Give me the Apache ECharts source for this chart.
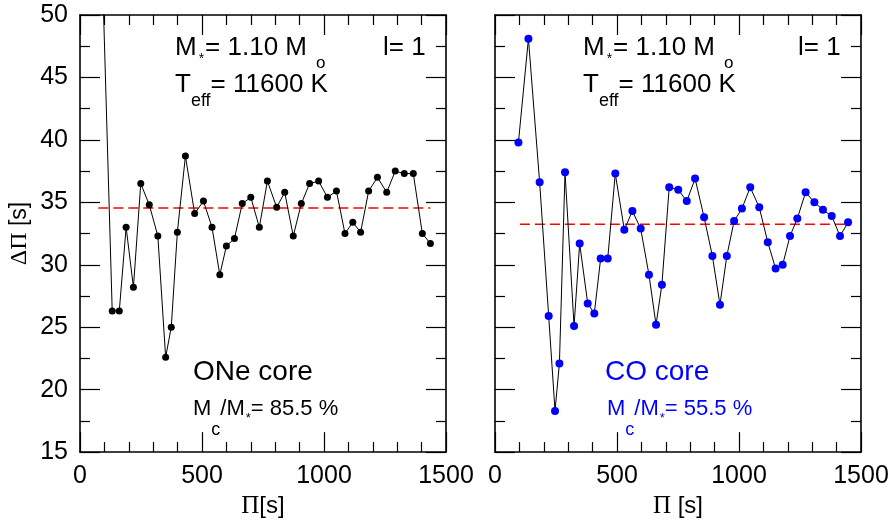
<!DOCTYPE html>
<html>
<head>
<meta charset="utf-8">
<script src="https://cdn.jsdelivr.net/npm/echarts@6/dist/echarts.min.js"></script>
<style>
html,body{margin:0;padding:0;background:#fff;}
#c{width:893px;height:524px;}
</style>
</head>
<body>
<div id="c"></div>
<script>
// ---- data ----
var piLeft = [85, 132, 161, 189, 219, 249, 284, 319, 351, 374, 399, 432, 470, 506, 541, 573, 600, 633, 665, 700, 735, 768, 806, 839, 874, 907, 941, 978, 1014, 1051, 1086, 1118, 1150, 1183, 1219, 1257, 1292, 1329, 1366, 1403, 1436];
var dpLeft = [58, 26.3, 26.3, 33.0, 28.2, 36.5, 34.8, 32.3, 22.6, 25.0, 32.6, 38.7, 34.1, 35.1, 33.0, 29.2, 31.5, 32.1, 34.9, 35.4, 33.0, 36.7, 34.6, 35.8, 32.3, 34.9, 36.5, 36.7, 35.4, 35.9, 32.5, 33.4, 32.6, 35.9, 37.0, 35.8, 37.5, 37.3, 37.3, 32.5, 31.7];
var piRight = [96, 137, 183, 220, 246, 264, 287, 324, 347, 380, 407, 433, 462, 493, 530, 563, 597, 631, 660, 684, 714, 751, 786, 820, 857, 891, 922, 950, 980, 1012, 1046, 1083, 1118, 1150, 1179, 1209, 1239, 1273, 1309, 1344, 1380, 1414, 1447];
var dpRight = [39.8, 48.1, 36.6, 25.9, 18.3, 22.1, 37.4, 25.1, 31.7, 26.9, 26.1, 30.5, 30.5, 37.3, 32.8, 34.3, 32.9, 29.2, 25.2, 28.4, 36.2, 36.0, 35.1, 36.9, 33.8, 30.7, 26.8, 30.7, 33.5, 34.5, 36.2, 34.6, 31.8, 29.7, 30.0, 32.3, 33.7, 35.8, 35.0, 34.4, 33.9, 32.3, 33.4];
var meanLeftX = [75, 1436];
var meanLeftY = [34.54, 34.54];
var meanRightX = [102, 1448];
var meanRightY = [33.24, 33.24];
var xTicks = [0, 500, 1000, 1500];
var yTicks = [15, 20, 25, 30, 35, 40, 45, 50];

function zip(a, b) { return a.map(function (v, i) { return [v, b[i]]; }); }

var SANS = 'Liberation Sans, Arial, Helvetica, sans-serif';
var SERIF = 'Liberation Serif, Times New Roman, serif';
function plain(v) { return String(v); }

function xAx(grid, pos, showLabel, name) {
  return {
    type: 'value', gridIndex: grid, position: pos,
    min: xTicks[0], max: xTicks[xTicks.length - 1], interval: 500,
    axisLine: { show: true, onZero: false, lineStyle: { color: '#000', width: 1.6 } },
    axisTick: { show: true, inside: true, length: 20, lineStyle: { color: '#000', width: 1.2 } },
    minorTick: { show: true, splitNumber: 5, length: 10, lineStyle: { color: '#000', width: 1.2 } },
    splitLine: { show: false },
    axisLabel: { show: showLabel, margin: 12, color: '#000', fontSize: 25, fontFamily: SANS, formatter: plain },
    name: name || '', nameLocation: 'middle', nameGap: 41,
    nameTextStyle: { color: '#000', fontSize: 24, fontFamily: SANS,
      rich: { g: { fontFamily: SERIF, fontSize: 25, color: '#000' }, s: { fontFamily: SANS, fontSize: 24, color: '#000' } } }
  };
}
function yAx(grid, pos, showLabel, name) {
  return {
    type: 'value', gridIndex: grid, position: pos,
    min: yTicks[0], max: yTicks[yTicks.length - 1], interval: 5,
    axisLine: { show: true, onZero: false, lineStyle: { color: '#000', width: 1.6 } },
    axisTick: { show: true, inside: true, length: 20, lineStyle: { color: '#000', width: 1.2 } },
    minorTick: { show: true, splitNumber: 2, length: 10, lineStyle: { color: '#000', width: 1.2 } },
    splitLine: { show: false },
    axisLabel: { show: showLabel, margin: 12, color: '#000', fontSize: 25, fontFamily: SANS, formatter: plain },
    name: name || '', nameLocation: 'middle', nameGap: 48,
    nameTextStyle: { color: '#000', fontSize: 23, fontFamily: SANS,
      rich: { g: { fontFamily: SERIF, fontSize: 24, color: '#000' }, s: { fontFamily: SANS, fontSize: 23, color: '#000' } } }
  };
}

function txt(left, top, text, color, rich) {
  var r = {};
  Object.keys(rich).forEach(function (k) {
    r[k] = Object.assign({ fontFamily: SANS, fill: color }, rich[k]);
  });
  return { type: 'text', left: left, top: top, silent: true,
    style: { text: text, fill: color, fontFamily: SANS, fontSize: 20, rich: r } };
}

var headRich = {
  n: { fontSize: 26 },
  st: { fontSize: 14, padding: [22, 1, 0, 2] },
  o: { fontSize: 17, padding: [31, 0, 0, 9] }
};
var teffRich = {
  n: { fontSize: 26 },
  e: { fontSize: 18, padding: [32, 0, 0, 0] }
};
var coreRich = { n: { fontSize: 28 } };
var mcRich = {
  n: { fontSize: 22 },
  c: { fontSize: 18, padding: [43, 0, 0, 0] },
  st: { fontSize: 13, padding: [18, 0, 0, 1] }
};

var graphics = [
  txt(175, 35, '{n|M}{st|*}{n|= 1.10 M}{o|o}', '#000', headRich),
  txt(175, 72, '{n|T}{e|eff}{n|= 11600 K}', '#000', teffRich),
  txt(383, 35, '{n|l= 1}', '#000', { n: { fontSize: 26 } }),
  txt(193, 358, '{n|ONe core}', '#000', coreRich),
  txt(193, 398, '{n|M}{c|c}{n|/M}{st|*}{n|= 85.5 %}', '#000', mcRich),
  txt(583, 35, '{n|M}{st|*}{n|= 1.10 M}{o|o}', '#000', headRich),
  txt(583, 72, '{n|T}{e|eff}{n|= 11600 K}', '#000', teffRich),
  txt(798, 35, '{n|l= 1}', '#000', { n: { fontSize: 26 } }),
  txt(605, 358, '{n|CO core}', '#0000ff', coreRich),
  txt(607, 398, '{n|M}{c|c}{n|/M}{st|*}{n|= 55.5 %}', '#0000ff', mcRich)
];

var chart = echarts.init(document.getElementById('c'), null, { renderer: 'canvas' });
chart.setOption({
  animation: false,
  backgroundColor: '#fff',
  grid: [
    { left: 80, top: 15, width: 366, height: 442 },
    { left: 495, top: 15, width: 366, height: 442 }
  ],
  xAxis: [
    xAx(0, 'bottom', true, '{g|Π}{s|[s]}'),
    xAx(0, 'top', false),
    xAx(1, 'bottom', true, '{g|Π}{s| [s]}'),
    xAx(1, 'top', false)
  ],
  yAxis: [
    yAx(0, 'left', true, '{g|ΔΠ}{s| [s]}'),
    yAx(0, 'right', false),
    yAx(1, 'left', false),
    yAx(1, 'right', false)
  ],
  series: [
    { type: 'line', xAxisIndex: 0, yAxisIndex: 0, data: zip(meanLeftX, meanLeftY), symbol: 'none', clip: true,
      lineStyle: { color: '#ff0000', width: 1.6, type: [10, 5] }, z: 3 },
    { type: 'line', xAxisIndex: 0, yAxisIndex: 0, data: zip(piLeft, dpLeft), clip: true,
      symbol: 'circle', symbolSize: 7, itemStyle: { color: '#000' },
      lineStyle: { color: '#000', width: 1 }, z: 4 },
    { type: 'line', xAxisIndex: 2, yAxisIndex: 2, data: zip(meanRightX, meanRightY), symbol: 'none', clip: true,
      lineStyle: { color: '#ff0000', width: 1.6, type: [10, 5] }, z: 3 },
    { type: 'line', xAxisIndex: 2, yAxisIndex: 2, data: zip(piRight, dpRight), clip: true,
      symbol: 'circle', symbolSize: 8, itemStyle: { color: '#0000ff' },
      lineStyle: { color: '#000', width: 1 }, z: 4 }
  ],
  graphic: graphics
});
</script>
</body>
</html>
